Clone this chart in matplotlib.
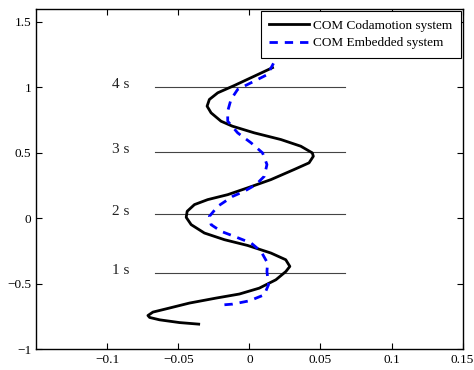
import numpy as np
import matplotlib
matplotlib.use("Agg")
import matplotlib.pyplot as plt

plt.rcParams['font.family'] = ['Liberation Serif', 'DejaVu Serif']

# COM trajectory, Codamotion (x, y)
coda_x = [-0.0356, -0.0491, -0.0631, -0.0701, -0.0713, -0.0678, -0.0584, -0.0421,
          -0.0234, -0.0070, 0.0070, 0.0187, 0.0257, 0.0285, 0.0256, 0.0152,
          -0.0012, -0.0175, -0.0316, -0.0409, -0.0444, -0.0437, -0.0386, -0.0293,
          -0.0152, -0.0012, 0.0152, 0.0315, 0.0420, 0.0450, 0.0443, 0.0362,
          0.0222, 0.0035, -0.0119, -0.0199, -0.0269, -0.0297, -0.0281, -0.0222,
          -0.0105, 0.0035, 0.0163]
coda_y = [-0.808, -0.796, -0.775, -0.757, -0.742, -0.716, -0.691, -0.647,
          -0.609, -0.578, -0.533, -0.469, -0.406, -0.367, -0.316, -0.265,
          -0.207, -0.163, -0.112, -0.048, 0.008, 0.054, 0.105, 0.143,
          0.181, 0.233, 0.296, 0.373, 0.424, 0.474, 0.500, 0.551,
          0.602, 0.653, 0.704, 0.742, 0.806, 0.857, 0.908, 0.959,
          1.015, 1.086, 1.151]

# COM trajectory, embedded system (x, y)
emb_x = [-0.0175, -0.0117, 0.0000, 0.0105, 0.0135, 0.0124, 0.0128, 0.0082,
         0.0012, -0.0105, -0.0199, -0.0269, -0.0281, -0.0222, -0.0117, -0.0035,
         0.0047, 0.0105, 0.0124, 0.0093, 0.0012, -0.0082, -0.0152, -0.0152,
         -0.0129, -0.0082, 0.0035, 0.0128, 0.0170]
emb_y = [-0.660, -0.655, -0.630, -0.584, -0.507, -0.406, -0.341, -0.252,
         -0.188, -0.138, -0.099, -0.048, 0.015, 0.092, 0.168, 0.207,
         0.258, 0.321, 0.411, 0.500, 0.577, 0.653, 0.742, 0.819,
         0.908, 0.985, 1.048, 1.099, 1.184]

# time markers
time_labels = ['1 s', '2 s', '3 s', '4 s']
time_y = [-0.415, 0.034, 0.505, 1.0]
line_x0 = -0.066
line_x1 = 0.067

fig = plt.figure(figsize=(4.74, 3.70), dpi=100)
ax = fig.add_axes([0.076, 0.056, 0.900, 0.920])

for lab, yy in zip(time_labels, time_y):
    ax.plot([line_x0, line_x1], [yy, yy], color='#444444', lw=0.8)
    ax.text(-0.0905, yy + 0.02, lab, ha='center', va='center', fontsize=11,
            color='#222222')

ax.plot(coda_x, coda_y, color='black', lw=2.0, solid_joinstyle='round',
        label='COM Codamotion system')
ax.plot(emb_x, emb_y, color='blue', lw=2.0, ls=(0, (3, 2.5)),
        label='COM Embedded system')

ax.set_xlim(-0.15, 0.15)
ax.set_ylim(-1, 1.6)
ax.set_xticks([-0.1, -0.05, 0, 0.05, 0.1, 0.15])
ax.set_xticklabels(['\u22120.1', '\u22120.05', '0', '0.05', '0.1', '0.15'])
ax.set_yticks([-1, -0.5, 0, 0.5, 1, 1.5])
ax.set_yticklabels(['\u22121', '\u22120.5', '0', '0.5', '1', '1.5'])
ax.tick_params(direction='in', top=True, right=True, labelsize=9.5, length=4,
               width=0.8)
for s in ax.spines.values():
    s.set_linewidth(1.0)

leg = ax.legend(loc='upper right', fontsize=9.5, fancybox=False, framealpha=1,
                edgecolor='black', borderaxespad=0.15, handlelength=3.0,
                borderpad=0.65, labelspacing=0.4, handletextpad=0.3)
leg.get_frame().set_linewidth(0.8)

fig.savefig('out.png', dpi=100)
